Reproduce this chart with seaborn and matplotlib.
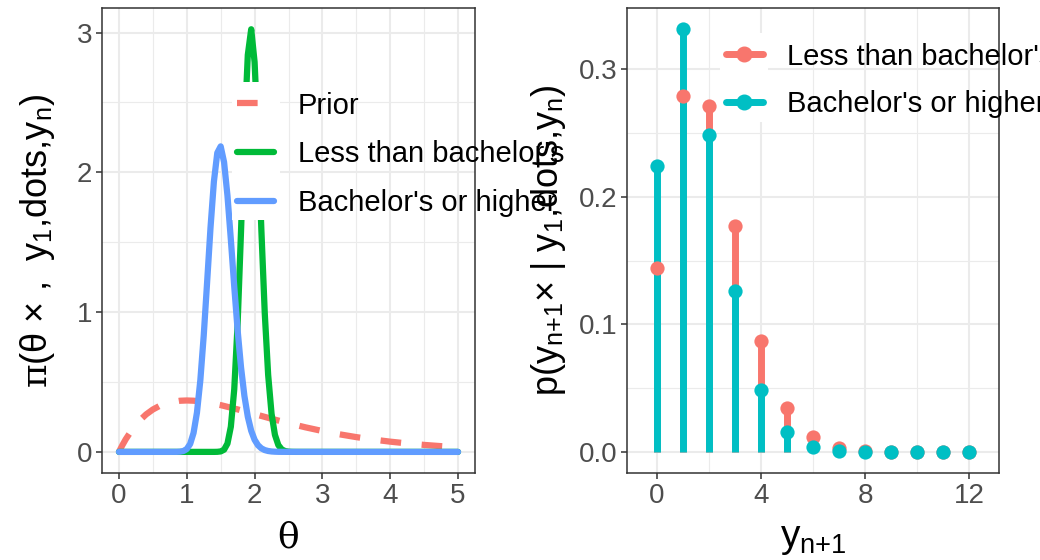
import matplotlib
matplotlib.use("Agg")
import matplotlib.pyplot as plt
import seaborn as sns
from matplotlib.lines import Line2D
from matplotlib.patches import Rectangle

# ---------------- data ----------------
prior_theta = [0, 0.05, 0.1, 0.2, 0.3, 0.4, 0.5, 0.6, 0.75, 0.9, 1.0, 1.1, 1.25, 1.5,
               1.75, 2.0, 2.25, 2.5, 2.75, 3.0, 3.25, 3.5, 3.75, 4.0, 4.25, 4.5, 4.75, 5.0]
prior_dens = [0, 0.0476, 0.0905, 0.1637, 0.2222, 0.2681, 0.3033, 0.3293, 0.3543, 0.3659,
              0.3679, 0.3662, 0.3581, 0.3347, 0.3041, 0.2707, 0.2371, 0.2052, 0.1758,
              0.1494, 0.1260, 0.1057, 0.0882, 0.0733, 0.0606, 0.0500, 0.0411, 0.0337]

less_theta = [0, 1.40, 1.45, 1.50, 1.55, 1.60, 1.65, 1.70, 1.75, 1.80, 1.85, 1.90, 1.95,
              2.00, 2.05, 2.10, 2.15, 2.20, 2.25, 2.30, 2.35, 2.40, 2.45, 2.50, 2.55, 2.60, 5.0]
less_dens = [0, 0.0001, 0.0006, 0.0034, 0.0159, 0.0596, 0.1806, 0.4479, 0.9191, 1.5794,
             2.2939, 2.8403, 3.0239, 2.7894, 2.2449, 1.5873, 0.9917, 0.5508, 0.2732,
             0.1217, 0.0489, 0.0178, 0.0059, 0.0018, 0.0005, 0.0001, 0]

bach_theta = [0, 0.85, 0.90, 0.95, 1.00, 1.05, 1.10, 1.15, 1.20, 1.25, 1.30, 1.35, 1.40,
              1.45, 1.50, 1.55, 1.60, 1.65, 1.70, 1.75, 1.80, 1.85, 1.90, 1.95, 2.00,
              2.05, 2.10, 2.15, 2.20, 2.25, 2.30, 2.35, 2.40, 5.0]
bach_dens = [0, 0.0003, 0.0016, 0.0063, 0.0206, 0.0570, 0.1356, 0.2808, 0.5125, 0.8324,
             1.2144, 1.6045, 1.9339, 2.1397, 2.1859, 2.0729, 1.8334, 1.5186, 1.1829,
             0.8695, 0.6051, 0.3999, 0.2516, 0.1511, 0.0869, 0.0479, 0.0254, 0.0129,
             0.0064, 0.0030, 0.0014, 0.0006, 0.0003, 0]

left_labels = ["Prior", "Less than bachelor's", "Bachelor's or higher"]

y_next = [0, 1, 2, 3, 4, 5, 6, 7, 8, 9, 10, 11, 12]
pred_less = [0.1440, 0.2791, 0.2717, 0.1771, 0.0870, 0.0343, 0.0113, 0.0032, 0.0008,
             0.0002, 0.0000, 0.0000, 0.0000]
pred_bach = [0.2244, 0.3317, 0.2487, 0.1262, 0.0487, 0.0152, 0.0040, 0.0009, 0.0002,
             0.0000, 0.0000, 0.0000, 0.0000]
right_labels = ["Less than bachelor's", "Bachelor's or higher"]

# ---------------- style ----------------
sns.set_theme(style="white")
plt.rcParams["font.family"] = ["Liberation Sans", "DejaVu Sans"]
plt.rcParams["mathtext.fontset"] = "custom"
plt.rcParams["mathtext.rm"] = "Liberation Sans"
plt.rcParams["mathtext.it"] = "DejaVu Serif"
plt.rcParams["mathtext.bf"] = "Liberation Sans:bold"

C_PRIOR, C_LESS, C_BACH = "#F8766D", "#00BA38", "#619CFF"
C_RED, C_TEAL = "#F8766D", "#00BFC4"
GRID = "#EBEBEB"
TICKFS = 20
LEGFS = 21
TITLEFS = 26

fig = plt.figure(figsize=(10.4, 5.6), dpi=100)
ax1 = fig.add_axes([102 / 1040, (560 - 473) / 560, 373 / 1040, 465 / 560])
ax2 = fig.add_axes([627 / 1040, (560 - 473) / 560, 372 / 1040, 465 / 560])


def style_axes(ax):
    ax.set_facecolor("white")
    ax.set_axisbelow(True)
    ax.grid(which="major", color=GRID, lw=1.5)
    ax.grid(which="minor", color=GRID, lw=0.8)
    for s in ax.spines.values():
        s.set_color("#333333")
        s.set_linewidth(1.1)
        s.set_visible(True)
    ax.tick_params(which="major", length=4, width=1.1, color="#333333",
                   labelcolor="#4D4D4D", labelsize=TICKFS, pad=3,
                   bottom=True, left=True)
    ax.tick_params(which="minor", length=0)


# ---------------- left panel ----------------
LW = 4.5
sns.lineplot(x=prior_theta, y=prior_dens, ax=ax1, color=C_PRIOR, lw=LW,
             linestyle=(0, (3.3, 3.3)), estimator=None, sort=False)
sns.lineplot(x=less_theta, y=less_dens, ax=ax1, color=C_LESS, lw=LW,
             estimator=None, sort=False)
sns.lineplot(x=bach_theta, y=bach_dens, ax=ax1, color=C_BACH, lw=LW,
             estimator=None, sort=False)

ax1.set_xlim(-0.25, 5.25)
ax1.set_ylim(-0.151, 3.176)
ax1.set_xticks([0, 1, 2, 3, 4, 5])
ax1.set_xticklabels(["0", "1", "2", "3", "4", "5"])
ax1.set_yticks([0, 1, 2, 3])
ax1.set_yticklabels(["0", "1", "2", "3"])
ax1.set_xticks([0.5, 1.5, 2.5, 3.5, 4.5], minor=True)
ax1.set_yticks([0.5, 1.5, 2.5], minor=True)
style_axes(ax1)

ax1.set_xlabel("θ", fontsize=TITLEFS, family="DejaVu Serif", color="black")
ax1.set_ylabel(r"$\pi$(θ × ,  y$_{\mathrm{1}}$,dots,y$_{\mathrm{n}}$)",
               fontsize=TITLEFS, color="black")
ax1.xaxis.label.set_verticalalignment("center")
ax1.yaxis.label.set_verticalalignment("center")
ax1.xaxis.set_label_coords(0.5, -0.138)
ax1.yaxis.set_label_coords(-0.172, 0.5)

# legend key backgrounds (white boxes like ggplot legend keys)
ax1.add_patch(Rectangle((0.3485, 0.544), 0.1287, 0.2975, transform=ax1.transAxes,
                        facecolor="white", edgecolor="none", zorder=3))
h_left = [Line2D([0], [0], color=C_PRIOR, lw=LW, linestyle=(0, (3.3, 3.3))),
          Line2D([0], [0], color=C_LESS, lw=LW),
          Line2D([0], [0], color=C_BACH, lw=LW)]
leg1 = ax1.legend(h_left, left_labels, loc="upper left", bbox_to_anchor=(0.362, 0.8204),
                  frameon=False, fontsize=LEGFS, handlelength=1.27, handletextpad=0.82,
                  labelspacing=0.71, borderpad=0, borderaxespad=0, labelcolor="black")
leg1.set_zorder(5)

# ---------------- right panel ----------------
SLW = 5
ax2.vlines(y_next, 0, pred_less, color=C_RED, lw=SLW, zorder=2)
ax2.vlines(y_next, 0, pred_bach, color=C_TEAL, lw=SLW, zorder=2)
sns.scatterplot(x=y_next, y=pred_less, ax=ax2, color=C_RED, s=105, linewidth=0, zorder=3)
sns.scatterplot(x=y_next, y=pred_bach, ax=ax2, color=C_TEAL, s=105, linewidth=0, zorder=3)

ax2.set_xlim(-1.15, 13.15)
ax2.set_ylim(-0.0166, 0.3482)
ax2.set_xticks([0, 4, 8, 12])
ax2.set_xticklabels(["0", "4", "8", "12"])
ax2.set_yticks([0.0, 0.1, 0.2, 0.3])
ax2.set_yticklabels(["0.0", "0.1", "0.2", "0.3"])
ax2.set_xticks([2, 6, 10], minor=True)
ax2.set_yticks([0.05, 0.15, 0.25], minor=True)
style_axes(ax2)

ax2.set_xlabel(r"y$_{\mathrm{n{+}1}}$", fontsize=TITLEFS + 2, color="black")
ax2.set_ylabel(r"p(y$_{\mathrm{n{+}1}}$× | y$_{\mathrm{1}}$,dots,y$_{\mathrm{n}}$)",
               fontsize=TITLEFS, color="black")
ax2.xaxis.label.set_verticalalignment("center")
ax2.yaxis.label.set_verticalalignment("center")
ax2.xaxis.set_label_coords(0.5, -0.142)
ax2.yaxis.set_label_coords(-0.212, 0.5)

ax2.add_patch(Rectangle((0.25, 0.7538), 0.129, 0.1935, transform=ax2.transAxes,
                        facecolor="white", edgecolor="none", zorder=3.5))
h_right = [Line2D([0], [0], color=C_RED, lw=SLW, marker="o", markersize=10.5),
           Line2D([0], [0], color=C_TEAL, lw=SLW, marker="o", markersize=10.5)]
leg2 = ax2.legend(h_right, right_labels, loc="upper left", bbox_to_anchor=(0.266, 0.9258),
                  frameon=False, fontsize=LEGFS, handlelength=1.27, handletextpad=0.82,
                  labelspacing=0.66, borderpad=0, borderaxespad=0, labelcolor="black")
leg2.set_zorder(5)

fig.savefig("out.png", dpi=100)
